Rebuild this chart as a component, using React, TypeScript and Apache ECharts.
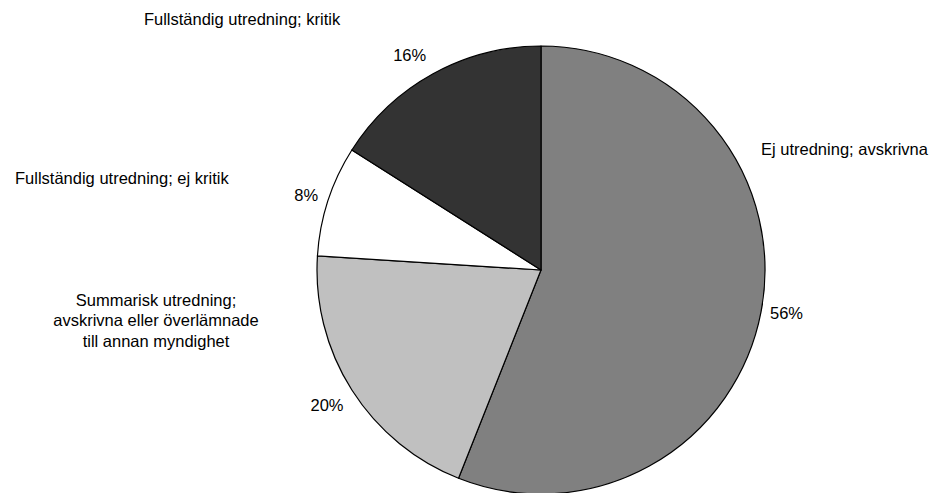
import { useEffect, useRef } from "react";
import * as echarts from "echarts";

// Category names (line breaks where the long name wraps)
const categories = [
  "Ej utredning; avskrivna",
  "Summarisk utredning;\navskrivna eller överlämnade\ntill annan myndighet",
  "Fullständig utredning; ej kritik",
  "Fullständig utredning; kritik",
];

// Share of cases, in percent
const shares = [56, 20, 8, 16];

const sliceColors = ["#808080", "#c0c0c0", "#ffffff", "#333333"];

// Small offsets applied to the percentage labels
const pctNudge: [number, number][] = [
  [0, 0],
  [0, 13],
  [-1, -5],
  [0, -15],
];

// Placement of the category names around the pie
const namePlacement = [
  { x: 761, y: 149, align: "left" },
  { x: 156, y: 320, align: "center" },
  { x: 15, y: 178, align: "left" },
  { x: 242, y: 19, align: "center" },
];

const FONT = "'Liberation Sans', Arial, sans-serif";
const FONT_SIZE = 16.5;

export default function App() {
  const ref = useRef<HTMLDivElement>(null);

  useEffect(() => {
    if (!ref.current) return;
    const chart = echarts.init(ref.current, null, { renderer: "svg" });

    const data = categories.map((name, i) => ({
      name,
      value: shares[i],
      itemStyle: { color: sliceColors[i] },
    }));

    chart.setOption({
      animation: false,
      backgroundColor: "#ffffff",
      series: [
        {
          type: "pie",
          center: [541, 270],
          radius: 224,
          startAngle: 90,
          clockwise: true,
          avoidLabelOverlap: false,
          silent: true,
          data,
          itemStyle: { borderColor: "#000000", borderWidth: 1.2 },
          label: {
            show: true,
            position: "outside",
            formatter: "{c}%",
            color: "#000000",
            fontFamily: FONT,
            fontSize: FONT_SIZE,
            distanceToLabelLine: 5,
          },
          labelLine: { show: false, length: 4, length2: 0 },
          labelLayout: (p: any) => ({
            dx: pctNudge[p.dataIndex][0],
            dy: pctNudge[p.dataIndex][1],
          }),
        },
        {
          type: "pie",
          center: [541, 270],
          radius: 224,
          startAngle: 90,
          clockwise: true,
          avoidLabelOverlap: false,
          silent: true,
          z: 1,
          data: categories.map((name, i) => ({ name, value: shares[i] })),
          itemStyle: { color: "transparent", borderWidth: 0 },
          label: {
            show: true,
            position: "outside",
            formatter: "{b}",
            color: "#000000",
            fontFamily: FONT,
            fontSize: FONT_SIZE,
            lineHeight: 20.5,
          },
          labelLine: { show: false },
          labelLayout: (p: any) => ({
            x: namePlacement[p.dataIndex].x,
            y: namePlacement[p.dataIndex].y,
            align: namePlacement[p.dataIndex].align,
            verticalAlign: "middle",
          }),
        },
      ],
    });

    return () => chart.dispose();
  }, []);

  return (
    <div
      ref={ref}
      style={{ position: "fixed", left: 0, top: 0, width: 937, height: 493 }}
    />
  );
}
